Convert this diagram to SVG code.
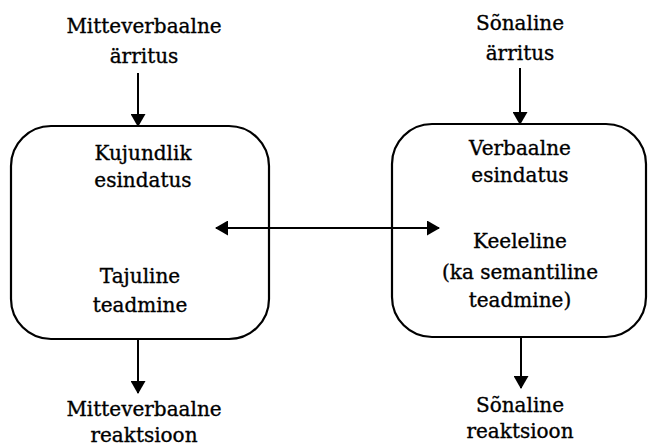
<svg xmlns="http://www.w3.org/2000/svg" width="649" height="447" viewBox="0 0 649 447">
  <style>
    .box { fill: none; stroke: #000; stroke-width: 2.2; }
    .edge { fill: none; stroke: #000; stroke-width: 2; }
    text { font-family: "DejaVu Serif", "Liberation Serif", serif; font-size: 20px; fill: #000; stroke: #000; stroke-width: 0.35; text-anchor: middle; }
  </style>
  <defs>
    <marker id="head" viewBox="0 0 13 15" refX="12" refY="7.5" markerWidth="13" markerHeight="15" markerUnits="userSpaceOnUse" orient="auto-start-reverse">
      <path d="M0,0 L13,7.5 L0,15 Z" fill="#000"/>
    </marker>
  </defs>
  <rect width="649" height="447" fill="#fff"/>

  <g id="stim-nonverbal">
    <text x="144" y="33">Mitteverbaalne</text>
    <text x="144" y="63">ärritus</text>
  </g>
  <g id="stim-verbal">
    <text x="520" y="30">Sõnaline</text>
    <text x="520" y="60">ärritus</text>
  </g>

  <g id="imagery">
    <rect class="box" x="11" y="126" width="258" height="213" rx="40" ry="40"/>
    <text x="143" y="160">Kujundlik</text>
    <text x="143" y="187">esindatus</text>
    <text x="140" y="283">Tajuline</text>
    <text x="140" y="312">teadmine</text>
  </g>

  <g id="verbal">
    <rect class="box" x="392" y="124" width="254" height="213" rx="40" ry="40"/>
    <text x="520" y="155">Verbaalne</text>
    <text x="520" y="182">esindatus</text>
    <text x="520" y="248">Keeleline</text>
    <text x="520" y="279">(ka semantiline</text>
    <text x="520" y="307">teadmine)</text>
  </g>

  <g id="resp-nonverbal">
    <text x="144" y="416">Mitteverbaalne</text>
    <text x="144" y="442">reaktsioon</text>
  </g>
  <g id="resp-verbal">
    <text x="520" y="412">Sõnaline</text>
    <text x="520" y="438">reaktsioon</text>
  </g>

  <g id="connectors">
    <line class="edge" x1="138" y1="73" x2="138" y2="126" marker-end="url(#head)"/>
    <line class="edge" x1="520" y1="68" x2="520" y2="124" marker-end="url(#head)"/>
    <line class="edge" x1="138" y1="339" x2="138" y2="393" marker-end="url(#head)"/>
    <line class="edge" x1="521" y1="337" x2="521" y2="388" marker-end="url(#head)"/>
    <line class="edge" x1="216" y1="228" x2="439" y2="228" marker-start="url(#head)" marker-end="url(#head)"/>
  </g>
</svg>
